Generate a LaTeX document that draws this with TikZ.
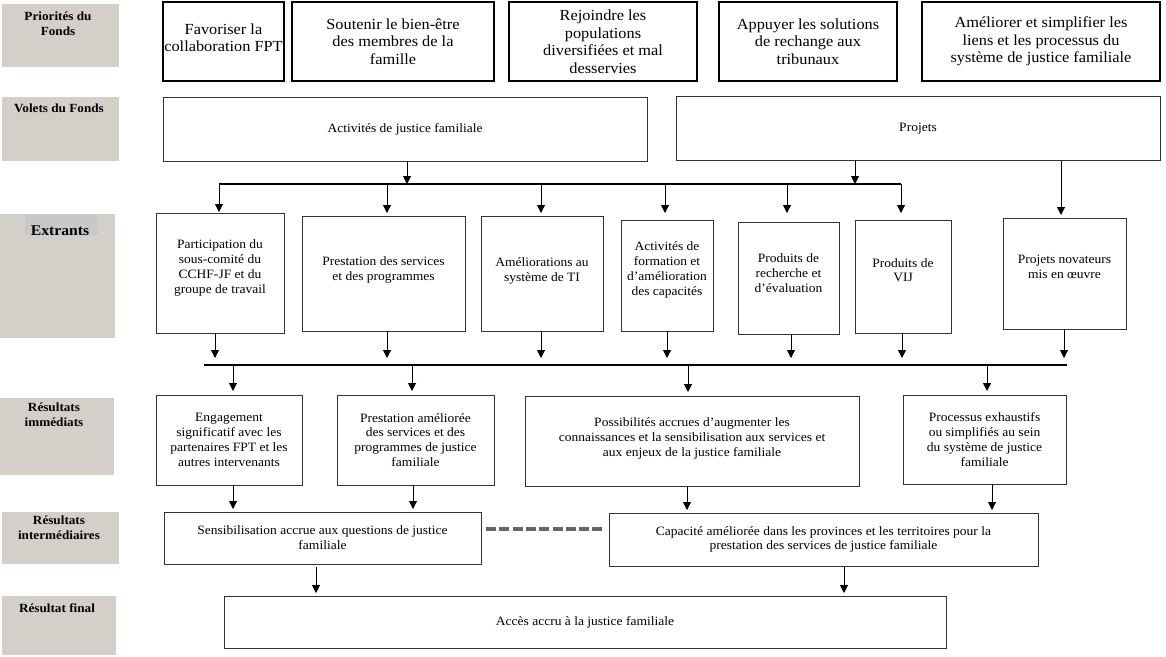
\documentclass[tikz,border=0pt]{standalone}
\usepackage{fontspec}
\setmainfont{Liberation Serif}[FakeStretch=1.06]
\usetikzlibrary{arrows.meta}
\definecolor{lblfill}{HTML}{D3D0CA}
\definecolor{hlfill}{HTML}{C8C8CB}
\definecolor{boxc}{HTML}{333333}
\definecolor{dashc}{HTML}{666666}
\tikzset{
  txt/.style={font=\fontsize{12.75}{14.8}\selectfont, align=center},
  box/.style={draw=boxc, line width=1pt, inner sep=0pt, outer sep=0pt, txt},
  topbox/.style={draw=black, line width=2pt, inner sep=0pt, outer sep=0pt, align=center, font=\fontsize{15.4}{17.5}\selectfont},
  lbl/.style={font=\bfseries\fontsize{12.45}{15}\selectfont, align=center, inner sep=0pt},
  arr/.style={-{Triangle[length=8pt,width=8pt]}, line width=1pt},
  bus/.style={line width=2pt},
  dashln/.style={line width=3.3pt, draw=dashc, dash pattern=on 10pt off 3.3pt},
}
\begin{document}
\begin{tikzpicture}[x=1pt,y=-1pt]
\useasboundingbox (0,0) rectangle (1166,656);
\fill[white] (0,0) rectangle (1166,656);

% left labels
\fill[lblfill] (2,4) rectangle (119,67);
\fill[lblfill] (2,97) rectangle (119,161);
\fill[lblfill] (0,214) rectangle (115,338);
\fill[hlfill] (25,215) rectangle (98,235);
\fill[lblfill] (0,398) rectangle (114,475);
\fill[lblfill] (2,512) rectangle (119,564);
\fill[lblfill] (2,596) rectangle (116,655);
\node[lbl] (l1) at (58,23.5) {Priorités du\\Fonds};
\node[lbl] (l2) at (59,108) {Volets du Fonds};
\node[lbl, font=\bfseries\fontsize{14.8}{17}\selectfont] (l3) at (60,231) {Extrants};
\node[lbl] (l4) at (54,415) {Résultats\\immédiats};
\node[lbl] (l5) at (59,528) {Résultats\\intermédiaires};
\node[lbl] (l6) at (57,608) {Résultat final};

% priorities
\node[topbox, minimum width=121pt, minimum height=79pt, text depth=8pt] (T1) at (223.5,41.5) {Favoriser la\\collaboration FPT};
\node[topbox, minimum width=202pt, minimum height=79pt] (T2) at (393,41.5) {Soutenir le bien-être\\des membres de la\\famille};
\node[topbox, minimum width=188pt, minimum height=79pt] (T3) at (603,41.5) {Rejoindre les\\populations\\diversifiées et mal\\desservies};
\node[topbox, minimum width=178pt, minimum height=79pt] (T4) at (808,41.5) {Appuyer les solutions\\de rechange aux\\tribunaux};
\node[topbox, minimum width=238pt, minimum height=79pt] (T5) at (1041,41.5) {Améliorer et simplifier les\\liens et les processus du\\système de justice familiale};

% volets
\node[box, minimum width=484pt, minimum height=64pt] (V1) at (405,129) {Activités de justice familiale};
\node[box, minimum width=484pt, minimum height=64pt] (V2) at (918,128.5) {Projets};

% extrants
\node[box, minimum width=128pt, minimum height=120pt, text depth=12.5pt] (E1) at (220,273) {Participation du\\sous-comité du\\CCHF-JF et du\\groupe de travail};
\node[box, minimum width=163pt, minimum height=115pt, text depth=9.5pt] (E2) at (383.5,273.5) {Prestation des services\\et des programmes};
\node[box, minimum width=122pt, minimum height=115pt, text depth=7.5pt] (E3) at (542,273.5) {Améliorations au\\système de TI};
\node[box, minimum width=92pt, minimum height=111pt, text depth=13.5pt] (E4) at (667,275.5) {Activités de\\formation et\\d’amélioration\\des capacités};
\node[box, minimum width=101pt, minimum height=112pt, text depth=10pt] (E5) at (788.5,278) {Produits de\\recherche et\\d’évaluation};
\node[box, minimum width=96pt, minimum height=113pt, text depth=13pt] (E6) at (903,276.5) {Produits de\\VIJ};
\node[box, minimum width=123pt, minimum height=111pt, text depth=13pt] (E7) at (1064.5,273.5) {Projets novateurs\\mis en œuvre};

% immediate outcomes
\node[box, minimum width=146pt, minimum height=90pt] (I1) at (229,440) {Engagement\\significatif avec les\\partenaires FPT et les\\autres intervenants};
\node[box, minimum width=157pt, minimum height=90pt] (I2) at (415.5,440) {Prestation améliorée\\des services et des\\programmes de justice\\familiale};
\node[box, minimum width=334pt, minimum height=90pt, text depth=8pt] (I3) at (692,441) {Possibilités accrues d’augmenter les\\connaissances et la sensibilisation aux services et\\aux enjeux de la justice familiale};
\node[box, minimum width=163pt, minimum height=89pt] (I4) at (984.5,439.5) {Processus exhaustifs\\ou simplifiés au sein\\du système de justice\\familiale};

% intermediate outcomes
\node[box, minimum width=317pt, minimum height=52pt] (M1) at (322.5,538) {Sensibilisation accrue aux questions de justice\\familiale};
\node[box, minimum width=429pt, minimum height=53pt] (M2) at (823.5,539.5) {Capacité améliorée dans les provinces et les territoires pour la\\prestation des services de justice familiale};

% final outcome
\node[box, minimum width=722pt, minimum height=52pt] (F) at (585,622) {Accès accru à la justice familiale};

% first bus
\coordinate (b1L) at (219,184);
\coordinate (b1R) at (901,184);
\draw[bus] (b1L) -- (b1R);
\coordinate (j1) at (407,184);
\coordinate (j2) at (855,184);
\draw[arr] (j1 |- V1.south) -- (j1);
\draw[arr] (j2 |- V2.south) -- (j2);
\coordinate (d2) at (387,184);
\coordinate (d3) at (541,184);
\coordinate (d4) at (665,184);
\coordinate (d5) at (787,184);
\draw[arr] (b1L) -- ([yshift=1pt]b1L |- E1.north);
\draw[arr] (d2) -- ([yshift=3pt]d2 |- E2.north);
\draw[arr] (d3) -- ([yshift=3pt]d3 |- E3.north);
\draw[arr] (d4) -- ([yshift=7pt]d4 |- E4.north);
\draw[arr] (d5) -- ([yshift=9pt]d5 |- E5.north);
\draw[arr] (b1R) -- ([yshift=7pt]b1R |- E6.north);
\coordinate (p7) at (1061,0);
\draw[arr] (p7 |- V2.south) -- ([yshift=3pt]p7 |- E7.north);

% second bus
\coordinate (b2L) at (204,365);
\coordinate (b2R) at (1067,365);
\draw[bus] (b2L) -- (b2R);
\coordinate (u1) at (215,365);
\coordinate (u2) at (387,365);
\coordinate (u3) at (541,365);
\coordinate (u4) at (667,365);
\coordinate (u5) at (791,365);
\coordinate (u6) at (902,365);
\coordinate (u7) at (1064,365);
\draw[arr, shorten >=7pt] (u1 |- E1.south) -- (u1);
\draw[arr, shorten >=7pt] (u2 |- E2.south) -- (u2);
\draw[arr, shorten >=7pt] (u3 |- E3.south) -- (u3);
\draw[arr, shorten >=7pt] (u4 |- E4.south) -- (u4);
\draw[arr, shorten >=7pt] (u5 |- E5.south) -- (u5);
\draw[arr, shorten >=7pt] (u6 |- E6.south) -- (u6);
\draw[arr, shorten >=7pt] (u7 |- E7.south) -- (u7);
\coordinate (r1) at (233,365);
\coordinate (r2) at (412,365);
\coordinate (r3) at (688,365);
\coordinate (r4) at (987,365);
\draw[arr, shorten >=4pt] (r1) -- (r1 |- I1.north);
\draw[arr, shorten >=4pt] (r2) -- (r2 |- I2.north);
\draw[arr, shorten >=4pt] (r3) -- (r3 |- I3.north);
\draw[arr, shorten >=4pt] (r4) -- (r4 |- I4.north);

% immediate -> intermediate
\coordinate (s1) at (233,0);
\coordinate (s2) at (413,0);
\coordinate (s3) at (687,0);
\coordinate (s4) at (992,0);
\draw[arr, shorten >=3pt] (s1 |- I1.south) -- (s1 |- M1.north);
\draw[arr, shorten >=3pt] (s2 |- I2.south) -- (s2 |- M1.north);
\draw[arr, shorten >=3pt] (s3 |- I3.south) -- (s3 |- M2.north);
\draw[arr, shorten >=3pt] (s4 |- I4.south) -- (s4 |- M2.north);

% dashed link
\coordinate (dy) at (0,529);
\draw[dashln] ([xshift=5pt]M1.east |- dy) -- ([xshift=-6pt]M2.west |- dy);

% intermediate -> final
\coordinate (f1) at (316,0);
\coordinate (f2) at (844,0);
\draw[arr, shorten <=3pt, shorten >=3pt] (f1 |- M1.south) -- (f1 |- F.north);
\draw[arr, shorten <=1pt, shorten >=3pt] (f2 |- M2.south) -- (f2 |- F.north);
\end{tikzpicture}
\end{document}
